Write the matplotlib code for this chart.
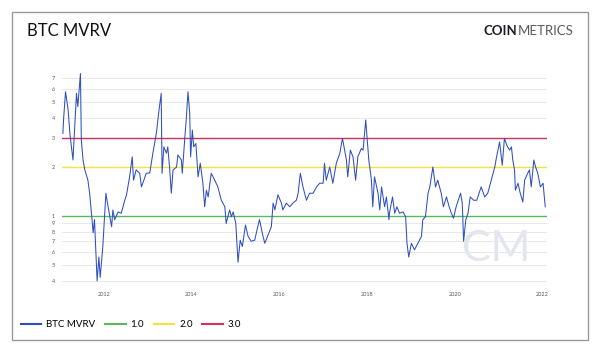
import matplotlib
matplotlib.use("Agg")
import matplotlib.pyplot as plt
from matplotlib.lines import Line2D
from matplotlib.patches import Rectangle
from matplotlib.ticker import FixedLocator, NullLocator

# ---- data (decimal year, MVRV) ----
years = [2011.07, 2011.09, 2011.13, 2011.19, 2011.23, 2011.30, 2011.34, 2011.38, 2011.41, 2011.47,
         2011.49, 2011.53, 2011.57, 2011.64, 2011.68, 2011.72, 2011.76, 2011.79, 2011.83, 2011.85,
         2011.89, 2011.92, 2011.98, 2012.05, 2012.10, 2012.18, 2012.21, 2012.25, 2012.33, 2012.40,
         2012.48, 2012.52, 2012.59, 2012.65, 2012.68, 2012.74, 2012.82, 2012.86, 2012.97, 2013.05,
         2013.12, 2013.20, 2013.26, 2013.31, 2013.33, 2013.37, 2013.43, 2013.46, 2013.50, 2013.54,
         2013.58, 2013.66, 2013.69, 2013.77, 2013.79, 2013.85, 2013.88, 2013.92, 2013.96, 2013.98,
         2014.02, 2014.05, 2014.10, 2014.15, 2014.20, 2014.26, 2014.30, 2014.34, 2014.38, 2014.45,
         2014.53, 2014.60, 2014.68, 2014.76, 2014.79, 2014.87, 2014.91, 2014.95, 2015.01, 2015.06,
         2015.11, 2015.16, 2015.23, 2015.29, 2015.36, 2015.44, 2015.51, 2015.55, 2015.63, 2015.67,
         2015.74, 2015.82, 2015.86, 2015.90, 2015.97, 2016.05, 2016.08, 2016.12, 2016.16, 2016.24,
         2016.31, 2016.39, 2016.43, 2016.48, 2016.54, 2016.62, 2016.69, 2016.77, 2016.85, 2016.92,
         2017.00, 2017.03, 2017.07, 2017.15, 2017.22, 2017.30, 2017.38, 2017.44, 2017.49, 2017.53,
         2017.56, 2017.62, 2017.68, 2017.74, 2017.79, 2017.87, 2017.91, 2017.97, 2018.00, 2018.04,
         2018.10, 2018.13, 2018.17, 2018.25, 2018.29, 2018.33, 2018.40, 2018.44, 2018.50, 2018.51,
         2018.58, 2018.63, 2018.68, 2018.74, 2018.82, 2018.88, 2018.91, 2018.95, 2019.01, 2019.08,
         2019.16, 2019.24, 2019.27, 2019.33, 2019.39, 2019.43, 2019.50, 2019.56, 2019.61, 2019.69,
         2019.74, 2019.81, 2019.87, 2019.92, 2019.97, 2020.03, 2020.13, 2020.17, 2020.20, 2020.25,
         2020.30, 2020.35, 2020.43, 2020.50, 2020.60, 2020.68, 2020.75, 2020.83, 2020.91, 2020.95,
         2021.02, 2021.08, 2021.13, 2021.19, 2021.25, 2021.29, 2021.32, 2021.36, 2021.38, 2021.44,
         2021.49, 2021.55, 2021.59, 2021.66, 2021.70, 2021.74, 2021.80, 2021.84, 2021.89, 2021.95,
         2022.01, 2022.06]
mvrv = [3.22, 4.07, 5.8, 4.48, 3.2, 2.21, 3.54, 5.67, 4.7, 7.5,
        2.93, 2.2, 1.92, 1.66, 1.38, 1.04, 0.79, 0.95, 0.54, 0.40,
        0.56, 0.42, 0.65, 1.38, 1.14, 0.86, 1.09, 0.95, 1.06, 1.04,
        1.25, 1.35, 1.74, 2.31, 1.66, 1.92, 1.83, 1.51, 1.83, 1.84,
        2.43, 3.22, 4.47, 5.67, 1.83, 2.66, 2.43, 2.66, 2.0, 1.38,
        1.92, 2.0, 2.37, 2.21, 1.83, 3.07, 3.89, 5.8, 4.27, 2.31,
        3.37, 2.66, 2.79, 1.74, 2.11, 1.59, 1.14, 1.44, 1.31, 1.83,
        1.66, 1.51, 1.25, 1.14, 0.90, 1.09, 0.99, 1.06, 0.90, 0.52,
        0.71, 0.65, 0.88, 0.75, 0.70, 0.71, 0.86, 0.95, 0.75, 0.68,
        0.76, 0.86, 1.2, 1.09, 1.35, 1.2, 1.09, 1.14, 1.2, 1.14,
        1.2, 1.25, 1.38, 1.83, 1.51, 1.25, 1.38, 1.38, 1.51, 1.59,
        1.59, 2.11, 1.66, 2.0, 1.59, 2.11, 2.43, 3.0, 2.54, 2.21,
        1.74, 2.54, 2.31, 1.66, 2.31, 2.6, 2.54, 3.89, 3.07, 2.21,
        1.66, 1.14, 1.74, 1.38, 1.09, 1.51, 1.14, 1.31, 0.95, 1.04,
        1.31, 1.04, 1.14, 1.04, 1.06, 0.99, 0.68, 0.56, 0.68, 0.62,
        0.68, 0.75, 0.95, 0.99, 1.38, 1.51, 2.0, 1.51, 1.66, 1.38,
        1.14, 1.31, 1.14, 1.04, 0.97, 1.14, 1.38, 1.2, 0.70, 0.95,
        1.04, 1.31, 1.25, 1.25, 1.51, 1.31, 1.38, 1.66, 2.0, 2.3,
        2.85, 2.05, 3.0, 2.7, 2.54, 2.66, 2.21, 1.92, 1.44, 1.59,
        1.38, 1.22, 1.66, 1.83, 1.92, 1.51, 2.21, 2.0, 1.83, 1.51,
        1.59, 1.14]

ref_levels = [1.0, 2.0, 3.0]
ref_labels = ["1.0", "2.0", "3.0"]
series_label = "BTC MVRV"

y_ticks = [0.4, 0.5, 0.6, 0.7, 0.8, 0.9, 1, 2, 3, 4, 5, 6, 7]
y_tick_labels = ["4", "5", "6", "7", "8", "9", "1", "2", "3", "4", "5", "6", "7"]
x_ticks = [2012, 2014, 2016, 2018, 2020, 2022]
x_tick_labels = ["2012", "2014", "2016", "2018", "2020", "2022"]

title = "BTC MVRV"

# ---- styling ----
W, H = 600, 353
fig = plt.figure(figsize=(W / 100, H / 100), dpi=100)
fig.patch.set_facecolor("white")

FONT = ["Lato", "DejaVu Sans"]
BLUE = "#2f4ec0"
REF_COLORS = ["#5cb85c", "#f5e23a", "#d6305a"]

def fx(px):
    return px / W

def fy(py):
    return 1 - py / H

# outer frame
fig.patches.append(Rectangle((fx(12), fy(340)), fx(588) - fx(12), fy(12) - fy(340),
                             transform=fig.transFigure, fill=False,
                             edgecolor="#9a9a9a", linewidth=1.0, zorder=0))

ax_left, ax_right = 62, 547
ax_top, ax_bottom = 69, 282.6
ax = fig.add_axes([fx(ax_left), fy(ax_bottom), fx(ax_right) - fx(ax_left), fy(ax_top) - fy(ax_bottom)])
ax.set_facecolor("none")

ax.set_yscale("log")
ax.set_ylim(0.39, 8.0)
ax.set_xlim(2011.05, 2022.10)

ax.yaxis.set_major_locator(FixedLocator(y_ticks))
ax.yaxis.set_minor_locator(NullLocator())
ax.set_yticklabels(y_tick_labels)
ax.xaxis.set_major_locator(FixedLocator(x_ticks))
ax.xaxis.set_minor_locator(NullLocator())
ax.set_xticklabels(x_tick_labels)

for s in ax.spines.values():
    s.set_visible(False)
ax.tick_params(axis="both", length=0, labelsize=4, labelcolor="#555555")
ax.tick_params(axis="y", pad=5)
ax.tick_params(axis="x", pad=7)
for lab in ax.get_xticklabels() + ax.get_yticklabels():
    lab.set_family(FONT)

ax.grid(axis="y", color="#e8e8e8", linewidth=0.7, zorder=0)
ax.grid(axis="x", visible=False)

# watermark
ax.text(2020.95, 0.63, "CM", fontsize=31, color="#e3e5ef", family=FONT,
        fontweight="normal", ha="center", va="center", zorder=1)

for lvl, col in zip(ref_levels, REF_COLORS):
    ax.axhline(lvl, color=col, linewidth=1.0, zorder=2)

ax.plot(years, mvrv, color=BLUE, linewidth=0.75, zorder=3)

# title
fig.text(fx(27), fy(31), title, fontsize=12, family=FONT, color="#111111",
         ha="left", va="center")

# logo
t1 = fig.text(fx(484), fy(31), "COIN", fontsize=9.5, family=FONT, fontweight="bold",
              color="#1c1c26", ha="left", va="center")
fig.canvas.draw()
bb = t1.get_window_extent()
fig.text(bb.x1 / W, fy(31), "METRICS", fontsize=9.5, family=FONT, fontweight="normal",
         color="#5a5a5a", ha="left", va="center")

# legend
leg_handles = [Line2D([], [], color=BLUE, linewidth=1.5)]
leg_labels = [series_label]
for col, lab in zip(REF_COLORS, ref_labels):
    leg_handles.append(Line2D([], [], color=col, linewidth=1.5))
    leg_labels.append(lab)
fig.legend(leg_handles, leg_labels, loc="center left", bbox_to_anchor=(fx(21), fy(324.5)),
           ncol=4, frameon=False, prop={"family": FONT, "size": 7},
           handlelength=2.1, handletextpad=0.5, columnspacing=1.0, borderpad=0,
           borderaxespad=0)

fig.savefig("out.png", dpi=100, facecolor="white")
